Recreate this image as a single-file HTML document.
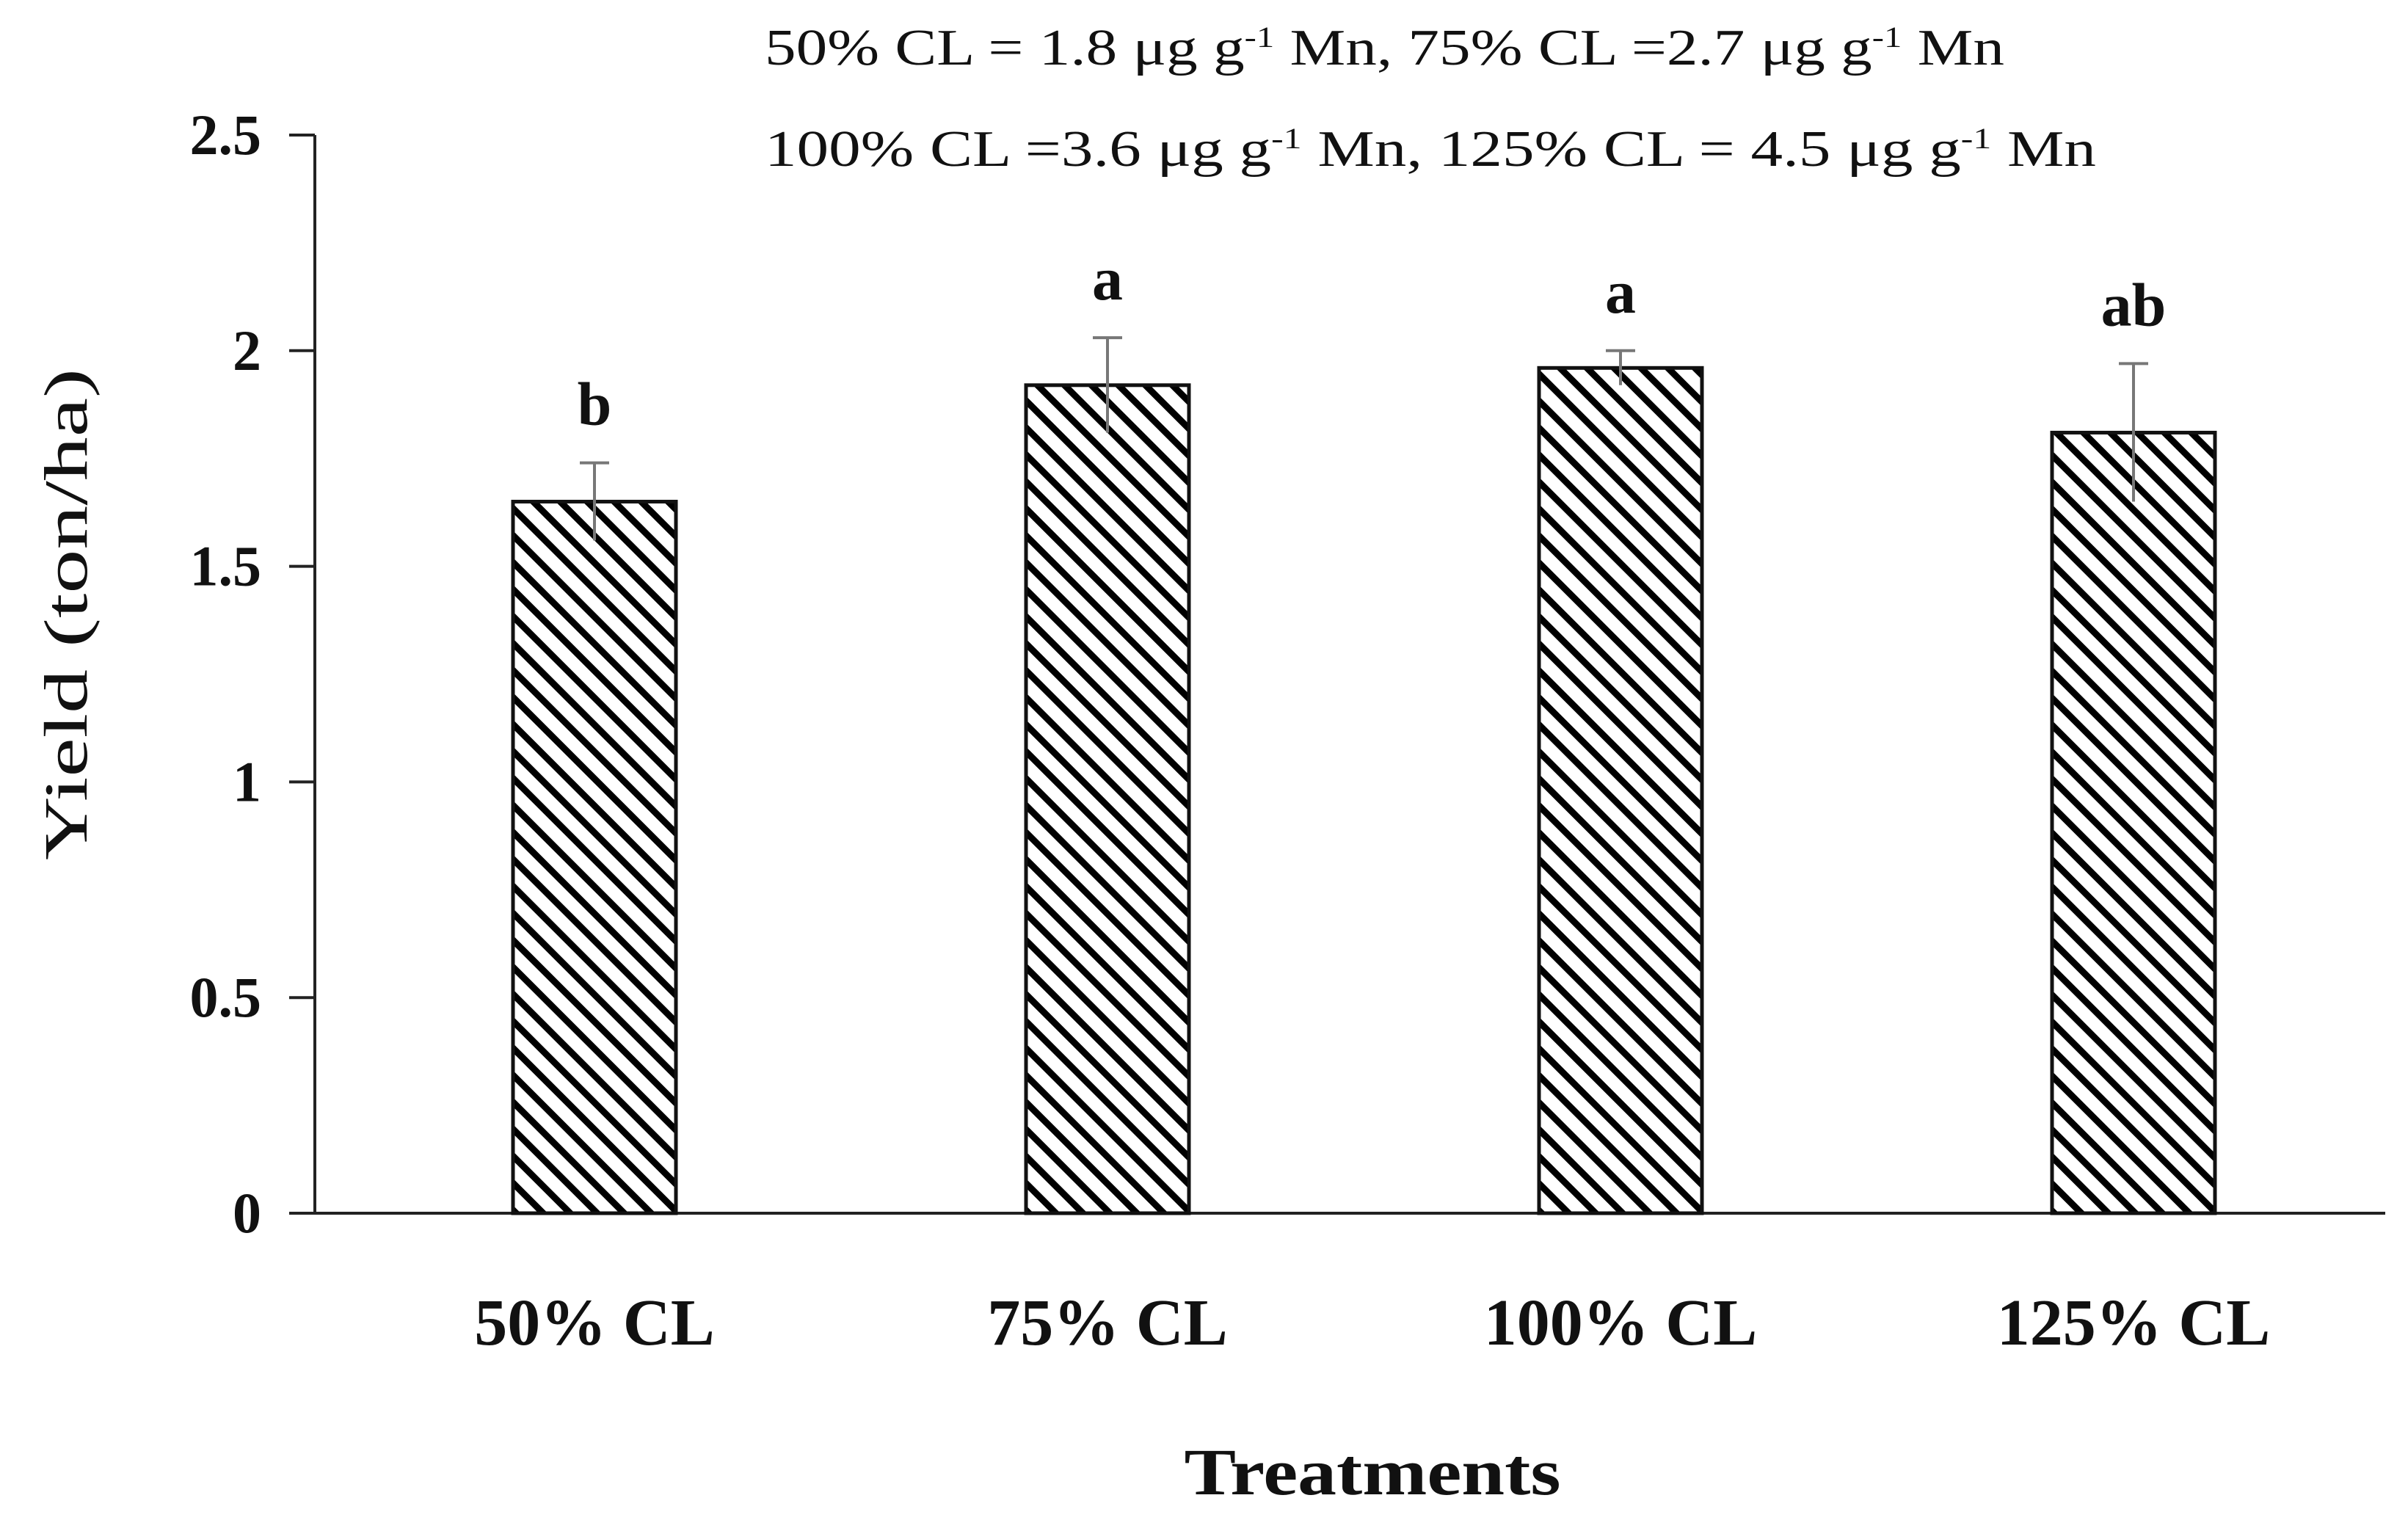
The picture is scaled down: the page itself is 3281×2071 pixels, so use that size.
<!DOCTYPE html>
<html><head><meta charset="utf-8"><style>
body{margin:0;background:#fff}
svg{display:block}
</style></head><body>
<svg id="chart" width="3281" height="2071" viewBox="0 0 3281 2071" xmlns="http://www.w3.org/2000/svg">
<defs>
<pattern id="hatch" patternUnits="userSpaceOnUse" width="26" height="26" patternTransform="rotate(-45)">
<rect width="26" height="26" fill="#fff"/>
<rect x="0" y="0" width="9" height="26" fill="#000"/>
</pattern>
</defs>
<g font-family="Liberation Serif, serif" font-size="70" fill="#111">
<text x="1042" y="88" textLength="1689" lengthAdjust="spacingAndGlyphs">50% CL = 1.8 μg g<tspan font-size="40" dy="-24">-1</tspan><tspan dy="24"> Mn, 75% CL =2.7 μg g</tspan><tspan font-size="40" dy="-24">-1</tspan><tspan dy="24"> Mn</tspan></text>
<text x="1042" y="226" textLength="1814" lengthAdjust="spacingAndGlyphs">100% CL =3.6 μg g<tspan font-size="40" dy="-24">-1</tspan><tspan dy="24"> Mn, 125% CL =  4.5 μg g</tspan><tspan font-size="40" dy="-24">-1</tspan><tspan dy="24"> Mn</tspan></text>
</g>
<g id="plot"></g>
<text transform="translate(118,837) rotate(-90)" text-anchor="middle" font-family="Liberation Serif, serif" font-size="84" fill="#111" textLength="670" lengthAdjust="spacingAndGlyphs">Yield (ton/ha)</text>
<text x="1870" y="2036" text-anchor="middle" font-family="Liberation Serif, serif" font-weight="bold" font-size="90" fill="#111" textLength="513" lengthAdjust="spacingAndGlyphs">Treatments</text>
</svg>
<script>
const categories = ["50% CL","75% CL","100% CL","125% CL"];
const values = [1.65, 1.92, 1.96, 1.81];
const errors = [0.09, 0.11, 0.04, 0.16];
const letters = ["b","a","a","ab"];
const yTicks = [0, 0.5, 1, 1.5, 2, 2.5];
const yTickLabels = ["0","0.5","1","1.5","2","2.5"];

const NS="http://www.w3.org/2000/svg";
const g=document.getElementById('plot');
const x0=429, x1=3250, yTop=184, yBot=1653, yMax=2.5;
const y=v=>yBot-(v/yMax)*(yBot-yTop);
const band=699, firstC=810;
const barW=222;
const xc=i=>firstC+band*i;
function mk(t,a){const e=document.createElementNS(NS,t);for(const k in a)e.setAttribute(k,a[k]);g.appendChild(e);return e;}

const ax=mk('line',{x1:x0,y1:yTop,x2:x0,y2:yBot,stroke:'#222','stroke-width':4});


const bx=mk('line',{x1:x0-35,y1:yBot,x2:x1,y2:yBot,stroke:'#222','stroke-width':4});



yTicks.forEach((v,i)=>{
  const t=mk('line',{x1:x0-35,y1:y(v),x2:x0,y2:y(v),stroke:'#222','stroke-width':4});
  
  
  const l=mk('text',{x:356,y:y(v)+26,'text-anchor':'end','font-family':'Liberation Serif, serif','font-weight':'bold','font-size':78,fill:'#111'});
  l.textContent=yTickLabels[i];
  
  
});

categories.forEach((c,i)=>{
  const cx=xc(i);
  const b=mk('rect',{x:cx-barW/2,y:y(values[i]),width:barW,height:yBot-y(values[i]),fill:'url(#hatch)',stroke:'#111','stroke-width':5});
  
  
  const eT=y(values[i]+errors[i]), eB=y(values[i]-errors[i]);
  const e=mk('path',{d:`M${cx},${eB}V${eT}M${cx-20},${eT}H${cx+20}`,stroke:'#777','stroke-width':4,fill:'none'});
  
  
  const s=mk('text',{x:cx,y:eT-52,'text-anchor':'middle','font-family':'Liberation Serif, serif','font-weight':'bold','font-size':84,fill:'#111'});
  s.textContent=letters[i];
  
  
  const l=mk('text',{x:cx,y:1832,'text-anchor':'middle','font-family':'Liberation Serif, serif','font-weight':'bold','font-size':90,fill:'#111'});
  l.textContent=c;
  
  
});
</script>
</body></html>
